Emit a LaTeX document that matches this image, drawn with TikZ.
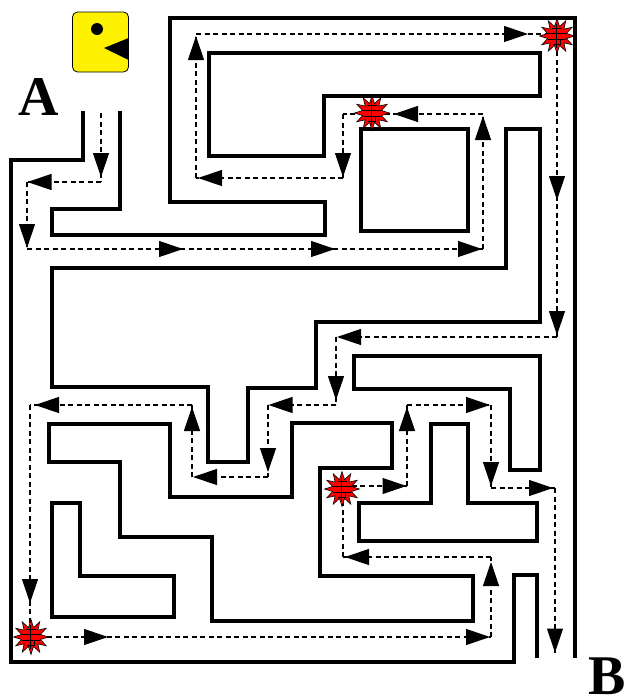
\documentclass[tikz,border=0pt]{standalone}
\usepackage{fontspec}
\setmainfont{Liberation Serif}
\usetikzlibrary{arrows.meta,decorations.markings,shapes.geometric}

\tikzset{
  wall/.style={line width=4pt, line join=miter, line cap=butt, draw=black},
  route/.style={line width=1.2pt, dash pattern=on 5pt off 3.5pt, draw=black},
  headat/.style={postaction={decorate,decoration={markings,
      mark=at position #1 with {\arrow{Triangle[length=24pt,width=16pt]}}}}},
  mine/.style={star, star points=12, star point ratio=1.8, minimum size=35pt,
      inner sep=0pt, fill=red, draw=black, line width=0.6pt,
      path picture={
        \begin{scope}[shift={(path picture bounding box.center)}]
          \draw[line width=0.5pt]
            (-10pt,3pt) -- (10pt,3pt)
            (-9pt,-3pt) -- (9pt,-3pt)
            (-1pt,12pt) -- (-1pt,-12pt)
            (-5pt,8pt) -- (5pt,8pt)
            (-4pt,-8pt) -- (4pt,-8pt)
            (3pt,-3pt) -- (3pt,-9pt);
        \end{scope}}},
  endlabel/.style={inner sep=0pt, font=\fontsize{56}{56}\selectfont\bfseries},
  pacbox/.style={draw=black, line width=0.8pt, fill=yellow, rounded corners=5pt,
      minimum width=56pt, minimum height=60pt, inner sep=0pt}
}

\begin{document}
\begin{tikzpicture}[x=1pt, y=-1pt]
\useasboundingbox (0,0) rectangle (631,699);

% ---------- maze walls ----------
\draw[wall] (83,111) -- (83,160) -- (11,160) -- (11,662) -- (514,662) -- (514,575) -- (537,575) -- (537,658);
\draw[wall] (120,111) -- (120,209) -- (52,209) -- (52,235) -- (325,235) -- (325,202) -- (170,202) -- (170,18) -- (575,18) -- (575,658);
\draw[wall] (209,53) -- (540,53) -- (540,96) -- (324,96) -- (324,156) -- (209,156) -- cycle;
\draw[wall] (361,129) rectangle (468,231);
\draw[wall] (52,268) -- (506,268) -- (506,129) -- (540,129) -- (540,322) -- (316,322) -- (316,388) -- (248,388) -- (248,462) -- (208,462) -- (208,387) -- (52,387) -- cycle;
\draw[wall] (354,356) -- (540,356) -- (540,470) -- (510,470) -- (510,389) -- (354,389) -- cycle;
\draw[wall] (49,424) -- (170,424) -- (170,497) -- (292,497) -- (292,423) -- (392,423) -- (392,468) -- (320,468) -- (320,576) -- (473,576) -- (473,621) -- (212,621) -- (212,537) -- (120,537) -- (120,462) -- (49,462) -- cycle;
\draw[wall] (431,424) -- (468,424) -- (468,503) -- (537,503) -- (537,541) -- (359,541) -- (359,503) -- (431,503) -- cycle;
\draw[wall] (52,503) -- (80,503) -- (80,576) -- (174,576) -- (174,617) -- (52,617) -- cycle;

% ---------- labels and the player ----------
\node[endlabel, anchor=base] (labA) at (39,115) {A};
\node[endlabel, anchor=base east] (labB) at (626,694) {B};
\node[pacbox] (pac) at (100.5,42) {};
\fill[black] (97,29) circle (6pt);
\fill[black] (104,48) -- (128.6,38) -- (128.6,60) -- cycle;

% ---------- route corners ----------
\coordinate (r0) at (101,113);
\coordinate (r1) at (101,182);
\coordinate (r2) at (27,182);
\coordinate (r3) at (27,249);
\coordinate (r4) at (483,249);
\coordinate (r5) at (483,114);
\coordinate (k2) at (372,114);
\coordinate (r6) at (343,114);
\coordinate (r7) at (343,178);
\coordinate (r8) at (196,178);
\coordinate (r9) at (196,34);
\coordinate (k1) at (557,34);
\coordinate (r10) at (557,337);
\coordinate (r11) at (336,337);
\coordinate (r12) at (336,405);
\coordinate (r13) at (268,405);
\coordinate (r14) at (268,477);
\coordinate (r15) at (192,477);
\coordinate (r16) at (192,405);
\coordinate (r17) at (30,405);
\coordinate (k3) at (30,637);
\coordinate (r18) at (491,637);
\coordinate (r19) at (491,557);
\coordinate (r20) at (343,557);
\coordinate (k4) at (343,486);
\coordinate (r21) at (407,486);
\coordinate (r22) at (407,405);
\coordinate (r23) at (491,405);
\coordinate (r24) at (491,488);
\coordinate (r25) at (555,488);
\coordinate (r26) at (555,653);

% ---------- the route ----------
\draw[route, headat=-5pt] (r0) -- (r1);
\draw[route, headat=-0.5pt] (r1) -- (r2);
\draw[route, headat=-1pt] (r2) -- (r3);
\draw[route, headat=156pt, headat=308pt, headat=-1pt] (r3) -- (r4);
\draw[route, headat=-2pt] (r4) -- (r5);
\draw[route, headat=-22pt] (r5) -- (k2);
\draw[route] (k2) -- (r6);
\draw[route, headat=-1pt] (r6) -- (r7);
\draw[route, headat=-2pt] (r7) -- (r8);
\draw[route, headat=-2pt] (r8) -- (r9);
\draw[route, headat=-29pt] (r9) -- (k1);
\draw[route, headat=166pt, headat=-2pt] (k1) -- (r10);
\draw[route, headat=-1pt] (r10) -- (r11);
\draw[route, headat=-5pt] (r11) -- (r12);
\draw[route, headat=-0.5pt] (r12) -- (r13);
\draw[route, headat=-5pt] (r13) -- (r14);
\draw[route, headat=-1pt] (r14) -- (r15);
\draw[route, headat=-2pt] (r15) -- (r16);
\draw[route, headat=-5pt] (r16) -- (r17);
\draw[route, headat=-34pt] (r17) -- (k3);
\draw[route, headat=78pt, headat=-1pt] (k3) -- (r18);
\draw[route, headat=-5pt] (r18) -- (r19);
\draw[route, headat=-2pt] (r19) -- (r20);
\draw[route] (r20) -- (k4);
\draw[route, headat=-0.5pt] (k4) -- (r21);
\draw[route, headat=-2pt] (r21) -- (r22);
\draw[route, headat=-1pt] (r22) -- (r23);
\draw[route, headat=-2pt] (r23) -- (r24);
\draw[route, headat=-2pt] (r24) -- (r25);
\draw[route, headat=-0.5pt] (r25) -- (r26);

% ---------- mines along the route ----------
\node[mine] (s1) at (557,36) {};
\node[mine] (s2) at (372,113) {};
\node[mine] (s3) at (31,637) {};
\node[mine] (s4) at (342,489) {};
\end{tikzpicture}
\end{document}
